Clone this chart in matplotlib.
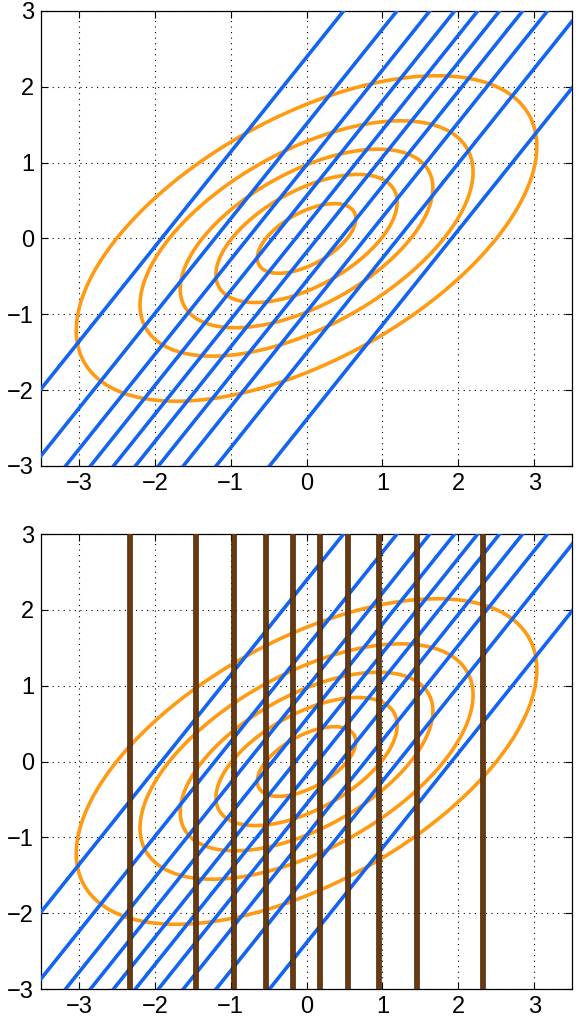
import numpy as np
import matplotlib.pyplot as plt
import matplotlib.patheffects as pe

plt.rcParams['font.family'] = ['Liberation Sans', 'DejaVu Sans']

# gaussian covariance read from the ellipses
cov_xx = 2.0
cov_xy = 0.8
cov_yy = 1.0
# contour levels (fraction of peak density)
levels = [0.1, 0.3, 0.5, 0.7, 0.9]

# parallel blue lines y = slope*x + c
line_slope = 1.25
line_offsets = [-2.39, -1.51, -0.97, -0.56, -0.18, 0.18, 0.56, 0.97, 1.51, 2.39]

# vertical brown lines (bottom panel)
vert_x = [-2.33, -1.46, -0.95, -0.54, -0.18, 0.18, 0.54, 0.95, 1.46, 2.33]

ticks_x = [-3, -2, -1, 0, 1, 2, 3]
ticks_y = [-3, -2, -1, 0, 1, 2, 3]

orange = '#ff9a12'
blue = '#1464f2'
brown = '#6b3a0e'

xs = np.linspace(-4.5, 4.5, 601)
ys = np.linspace(-4, 4, 601)
X, Y = np.meshgrid(xs, ys)
cov = np.array([[cov_xx, cov_xy], [cov_xy, cov_yy]])
inv = np.linalg.inv(cov)
Q = inv[0, 0] * X**2 + 2 * inv[0, 1] * X * Y + inv[1, 1] * Y**2
Z = np.exp(-0.5 * Q)

fig = plt.figure(figsize=(5.83, 10.25), dpi=100)
ax_top = fig.add_axes([0.0703, 0.5454, 0.911, 0.4439])
ax_bot = fig.add_axes([0.0703, 0.0351, 0.911, 0.4439])


def setup(ax):
	ax.set_xlim(-3.5, 3.5)
	ax.set_ylim(-3, 3)
	ax.set_xticks(ticks_x)
	ax.set_yticks(ticks_y)
	ax.set_xticklabels(['\u2212' + str(-t) if t < 0 else str(t) for t in ticks_x])
	ax.set_yticklabels(['\u2212' + str(-t) if t < 0 else str(t) for t in ticks_y])
	ax.grid(True, color='black', linestyle=(0, (1, 4)), linewidth=0.8)
	ax.tick_params(direction='in', top=True, right=True, length=5, width=0.8,
		labelsize=17, pad=5)
	for s in ax.spines.values():
		s.set_linewidth(0.9)
	ax.set_axisbelow(True)


for ax in [ax_top, ax_bot]:
	setup(ax)
	ax.contour(X, Y, Z, levels=levels, colors=orange, linewidths=2.6, zorder=2)
	for c in line_offsets:
		ax.axline((0, c), slope=line_slope, color=blue, linewidth=2.6, zorder=3)

for v in vert_x:
	ax_bot.axvline(v, color=brown, linewidth=2.8, zorder=4,
		path_effects=[pe.Stroke(linewidth=4.0, foreground='#3a1c02'), pe.Normal()])

fig.savefig('out.png', dpi=100)
